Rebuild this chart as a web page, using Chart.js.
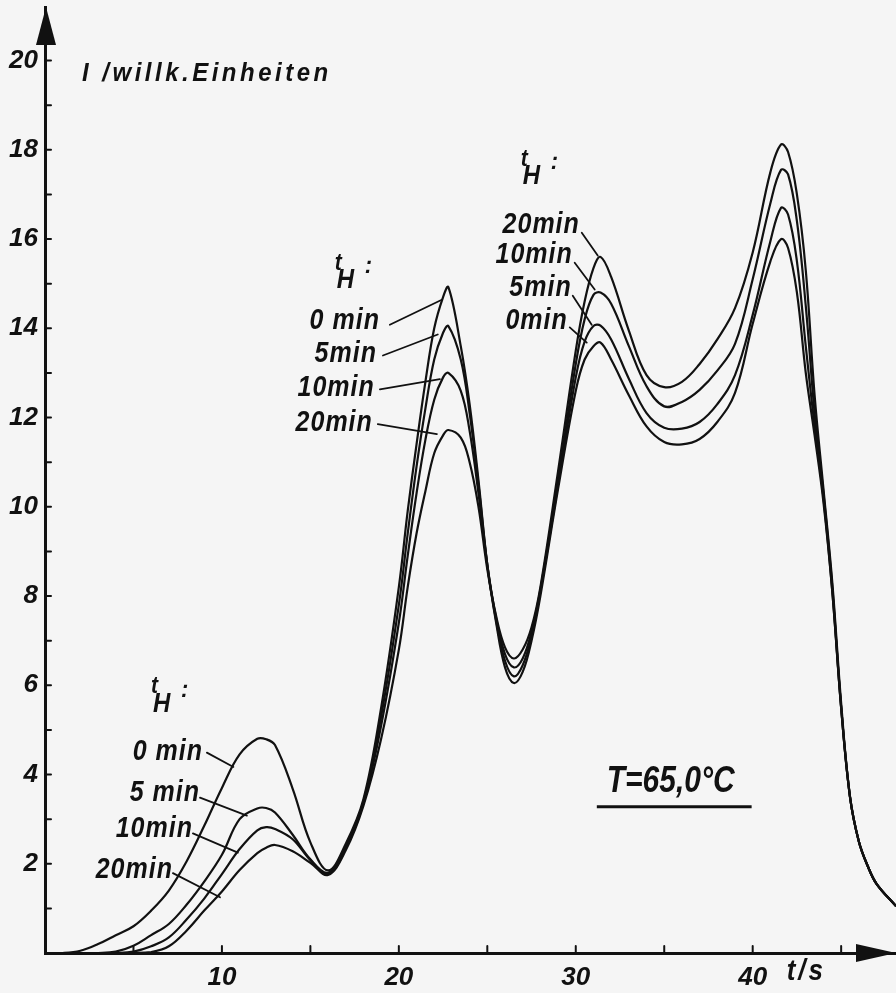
<!DOCTYPE html>
<html><head><meta charset="utf-8">
<script src="https://cdn.jsdelivr.net/npm/chart.js@4"></script>
<style>html,body{margin:0;padding:0;background:#f5f5f5}canvas{display:block}</style>
</head><body>
<canvas id="c" width="896" height="993"></canvas>
<script>
// ---- data ----
const times = [0,1,2,3,4,5,6,7,8,9,10,11,12,12.5,13,14,15,16,17,18,19,20,20.5,21,21.5,22,22.5,22.8,23.5,24,24.5,25,25.5,26,26.5,27,27.5,28,29,30,30.5,31,31.4,32,33,34,35,36,37,38,39,40,41,41.6,42,42.5,43,43.5,44,44.5,45,45.5,46,46.5,47,48.1];
const tH0min  = [0,0,0.05,0.2,0.4,0.6,0.95,1.4,2.05,2.85,3.7,4.45,4.8,4.79,4.66,3.68,2.48,1.85,2.45,3.45,5.5,8.2,9.9,11.4,12.8,14.0,14.7,14.92,13.6,12.3,10.6,8.7,7.4,6.4,6.05,6.3,7.0,8.0,10.4,12.6,13.3,13.6,13.68,13.3,12.5,11.8,11.45,11.4,11.52,11.9,12.55,14.1,15.5,16.0,15.8,14.8,13.0,11.6,10.1,8.1,5.5,3.5,2.5,1.95,1.55,1.05];
const tH5min  = [0,0,0,0,0.03,0.16,0.4,0.65,1.08,1.6,2.2,3.0,3.24,3.25,3.15,2.65,2.1,1.8,2.4,3.4,5.3,7.8,9.4,10.9,12.2,13.3,13.9,14.05,13.3,12.1,10.5,8.7,7.45,6.55,6.2,6.45,7.1,8.1,10.5,12.9,13.7,14.05,14.06,13.75,12.87,12.1,11.77,11.75,11.9,12.3,12.95,14.3,15.95,16.7,16.55,15.5,13.6,11.8,10.2,8.1,5.5,3.5,2.5,1.95,1.55,1.05];
const tH10min = [0,0,0,0,0,0.03,0.15,0.35,0.75,1.22,1.77,2.33,2.75,2.82,2.78,2.55,2.08,1.77,2.35,3.35,5.1,7.4,8.9,10.3,11.5,12.4,12.9,13.0,12.6,11.7,10.3,8.7,7.5,6.7,6.4,6.6,7.2,8.15,10.6,13.2,14.2,14.75,14.8,14.55,13.6,12.7,12.25,12.35,12.62,13.05,13.65,15.1,16.8,17.55,17.45,16.4,14.5,12.1,10.3,8.2,5.5,3.5,2.5,1.95,1.55,1.05];
const tH20min = [0,0,0,0,0,0,0.02,0.15,0.5,0.95,1.38,1.86,2.24,2.36,2.42,2.28,2.02,1.75,2.3,3.3,4.8,6.8,8.2,9.4,10.35,11.2,11.6,11.72,11.55,11.0,10.0,8.6,7.55,6.85,6.6,6.8,7.3,8.2,10.8,13.5,14.6,15.35,15.6,15.15,13.95,12.95,12.68,12.8,13.2,13.75,14.45,15.7,17.5,18.12,17.95,17.0,15.3,12.5,10.4,8.3,5.6,3.5,2.5,1.95,1.55,1.05];
const seriesNames = ['0 min','5 min','10 min','20 min'];
const yTickLabels = [2,4,6,8,10,12,14,16,18,20];
const xTickLabels = [10,20,30,40];
const xMinorTicks = [5,15,25,35,45];
const yAxisTitle = 'I /willk.Einheiten';
const xAxisTitle = 't/s';
const tempNote = 'T=65,0°C';

// ---- annotation texts (positions in data units) ----
const peakLabels = [
  {s:'0 min', t:8.93, v:4.51, lt:[9.15,4.49,10.65,4.17]},
  {s:'5 min', t:8.76, v:3.59, lt:[8.76,3.48,11.41,3.08]},
  {s:'10min', t:8.36, v:2.77, lt:[8.36,2.68,10.90,2.25]},
  {s:'20min', t:7.23, v:1.85, lt:[7.23,1.79,9.89,1.25]},
  {s:'0 min', t:18.93, v:14.17, lt:[19.49,14.08,22.43,14.64]},
  {s:'5min',  t:18.76, v:13.42, lt:[19.1,13.39,22.2,13.86]},
  {s:'10min', t:18.64, v:12.66, lt:[18.93,12.63,22.32,12.86]},
  {s:'20min', t:18.53, v:11.88, lt:[18.81,11.85,22.15,11.63]},
  {s:'20min', t:30.23, v:16.32, lt:[30.34,16.14,31.24,15.63]},
  {s:'10min', t:29.83, v:15.63, lt:[29.94,15.47,31.07,14.87]},
  {s:'5min',  t:29.77, v:14.91, lt:[29.83,14.73,30.9,14.08]},
  {s:'0min',  t:29.55, v:14.17, lt:[29.66,14.02,30.62,13.68]}
];
const tHAnchors = [[5.99,5.96],[16.38,15.45],[26.89,17.79]];

const FONT = '"Liberation Sans", Arial, sans-serif';
function drawTxt(ctx, s, x, y, size, align, sy, ls){
  ctx.save();
  ctx.font = 'italic bold ' + size + 'px ' + FONT;
  try { ctx.letterSpacing = (ls||0) + 'px'; } catch(e){}
  ctx.textAlign = align; ctx.textBaseline = 'middle';
  ctx.fillStyle = '#111';
  ctx.translate(x, y); ctx.scale(1, sy||1.15);
  ctx.fillText(s, 0, 0);
  ctx.restore();
}

const decor = {
  id: 'decor',
  beforeDraw(chart){
    const c = chart.ctx; c.save(); c.fillStyle = '#f5f5f5'; c.fillRect(0,0,chart.width,chart.height); c.restore();
  },
  afterDraw(chart){
    const c = chart.ctx, xs = chart.scales.x, ys = chart.scales.y, a = chart.chartArea;
    const X = v => xs.getPixelForValue(v), Y = v => ys.getPixelForValue(v);
    c.save();
    c.strokeStyle = '#111'; c.fillStyle = '#111'; c.lineCap = 'round';
    // inner tick marks
    c.lineWidth = 2;
    for (let v = 1; v <= 20; v++) { c.beginPath(); c.moveTo(a.left, Y(v)); c.lineTo(a.left + 6, Y(v)); c.stroke(); }
    xs.ticks.forEach(tk => { c.beginPath(); c.moveTo(X(tk.value), a.bottom); c.lineTo(X(tk.value), a.bottom - 7); c.stroke(); });
    // arrows
    c.beginPath(); c.moveTo(a.left + 1, a.top); c.lineTo(a.left - 9, a.top + 38); c.lineTo(a.left + 11, a.top + 38); c.closePath(); c.fill();
    c.beginPath(); c.moveTo(a.right, a.bottom); c.lineTo(a.right - 40, a.bottom - 9); c.lineTo(a.right - 40, a.bottom + 9); c.closePath(); c.fill();
    // leader lines + labels
    c.lineWidth = 1.8;
    peakLabels.forEach(p => {
      c.beginPath(); c.moveTo(X(p.lt[0]), Y(p.lt[1])); c.lineTo(X(p.lt[2]), Y(p.lt[3])); c.stroke();
      drawTxt(c, p.s, X(p.t), Y(p.v), 25, 'right', 1.15, 1);
    });
    // t_H :
    tHAnchors.forEach(([t, v]) => {
      const x = X(t), y = Y(v);
      drawTxt(c, 't', x, y, 21, 'left', 1.1, 0);
      drawTxt(c, 'H', x + 2, y + 17, 24, 'left', 1.15, 0);
      drawTxt(c, ':', x + 30, y + 3, 22, 'left', 1.1, 0);
    });
    // axis titles and note
    drawTxt(c, yAxisTitle, X(2.09), Y(19.71), 24, 'left', 1.1, 3.5);
    drawTxt(c, xAxisTitle, X(41.92), Y(-0.42), 26, 'left', 1.15, 3);
    drawTxt(c, tempNote, X(31.75), Y(3.84), 30, 'left', 1.2, 0);
    c.lineWidth = 3; c.lineCap = 'butt';
    c.beginPath(); c.moveTo(X(31.19), Y(3.28)); c.lineTo(X(39.94), Y(3.28)); c.stroke();
    c.restore();
  }
};

const series = [tH0min, tH5min, tH10min, tH20min];
const tickFont = {family: FONT, size: 26, style: 'italic', weight: 'bold'};
new Chart(document.getElementById('c'), {
  type: 'line',
  data: {
    datasets: series.map((arr, i) => ({
      label: seriesNames[i],
      data: times.map((t, k) => ({x: t, y: arr[k]})),
      borderColor: '#111', borderWidth: 2.2, pointRadius: 0,
      tension: 0.38, fill: false
    }))
  },
  options: {
    responsive: false, devicePixelRatio: 1, animation: false,
    layout: {padding: {top: 7, right: 0, left: 0, bottom: 0}},
    plugins: {legend: {display: false}, tooltip: {enabled: false}},
    scales: {
      x: {
        type: 'linear', min: 0, max: 48.1,
        afterFit(s){ s.height = 40; s.paddingLeft = 0; s.paddingRight = 0; },
        afterBuildTicks(s){ s.ticks = xTickLabels.concat(xMinorTicks).sort((a,b)=>a-b).map(v => ({value: v})); },
        ticks: {color: '#111', font: tickFont, padding: 9, maxRotation: 0, autoSkip: false,
          callback: v => xTickLabels.includes(v) ? String(v) : ''},
        grid: {display: true, drawOnChartArea: false, drawTicks: false},
        border: {display: true, color: '#111', width: 3}
      },
      y: {
        type: 'linear', min: 0, max: 21.2,
        afterFit(s){ s.width = 45; s.paddingTop = 0; s.paddingBottom = 0; },
        afterBuildTicks(s){ s.ticks = yTickLabels.map(v => ({value: v})); },
        ticks: {color: '#111', font: tickFont, padding: 7, autoSkip: false,
          callback: v => String(v)},
        grid: {display: true, drawOnChartArea: false, drawTicks: false},
        border: {display: true, color: '#111', width: 3}
      }
    }
  },
  plugins: [decor]
});
</script>
</body></html>
